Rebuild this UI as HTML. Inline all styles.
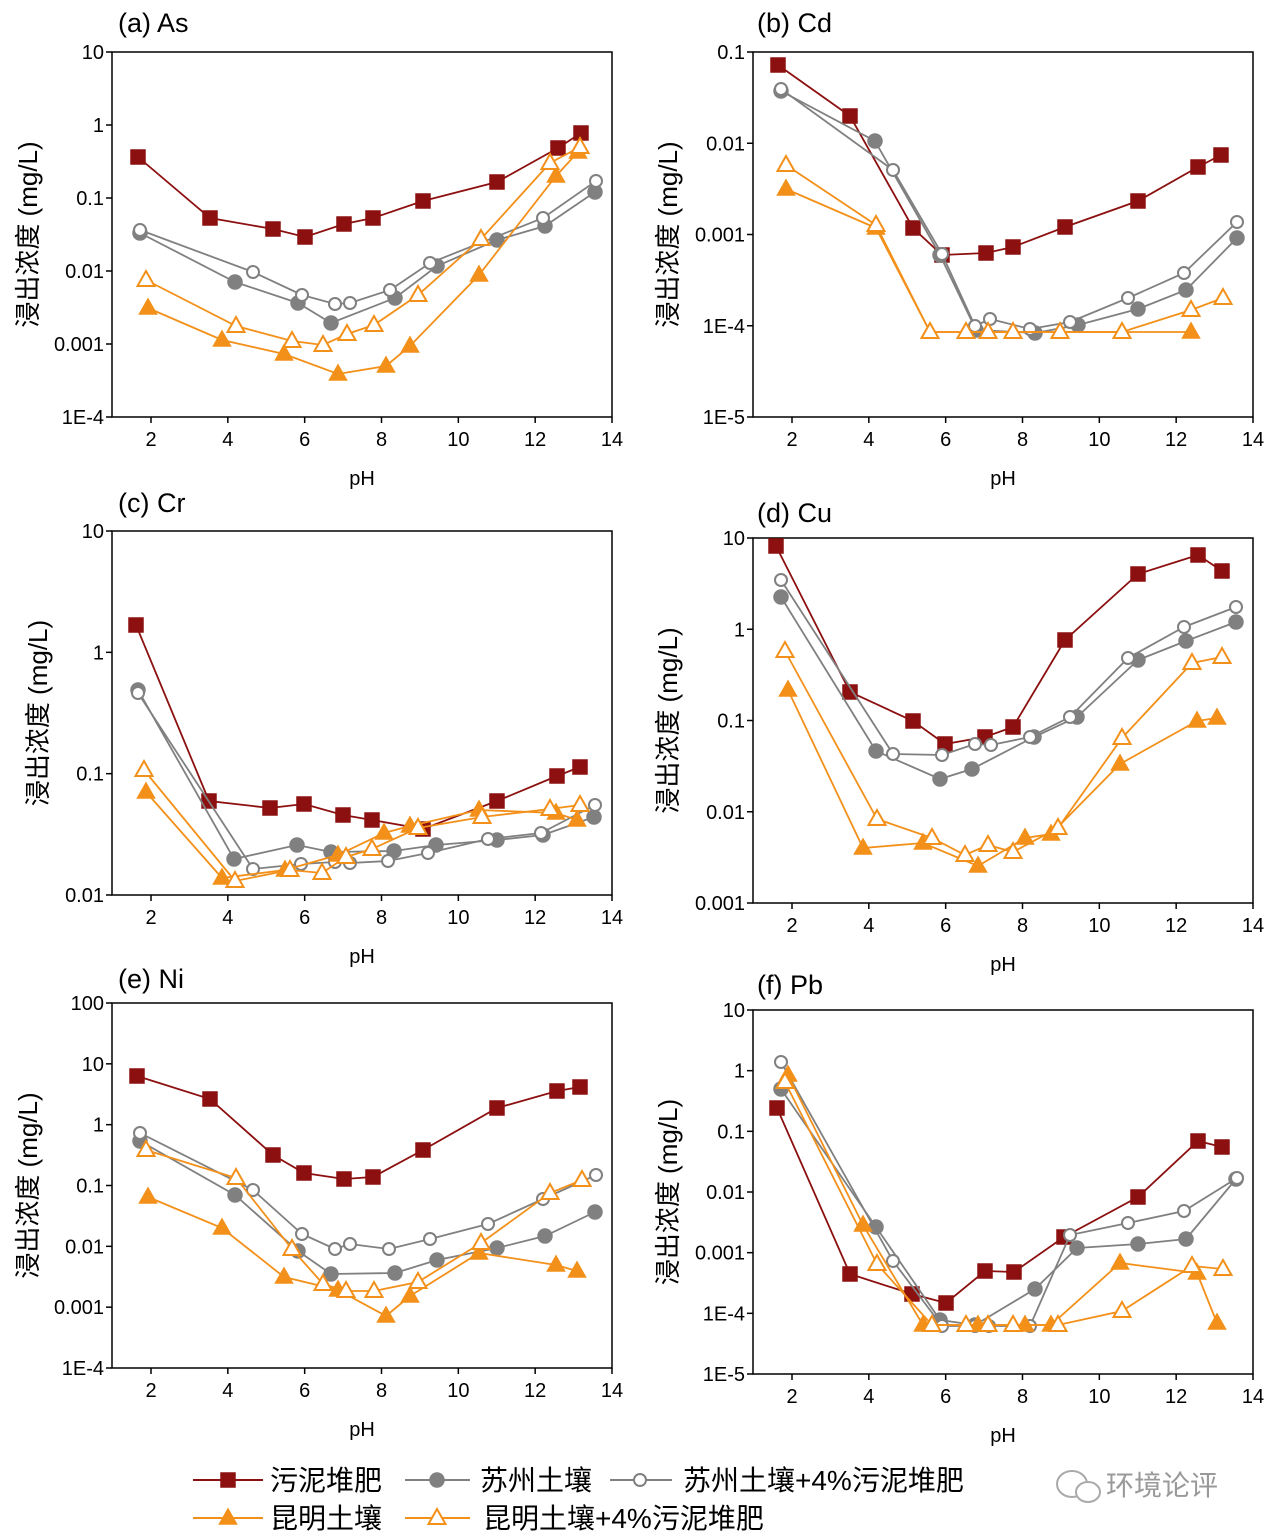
<!DOCTYPE html>
<html><head><meta charset="utf-8"><style>
body{margin:0;background:#fff;}
svg{display:block;font-family:"Liberation Sans","Noto Sans CJK SC",sans-serif;}
</style></head><body>
<svg id="s" width="1271" height="1540" xmlns="http://www.w3.org/2000/svg"></svg>
<script>
const S=document.getElementById('s');let h='';
const RED='#8c1010',GRAY='#808080',OR='#f39019';
const panels=[
{t:'(a) As',x0:112,x1:612,y0:52,y1:417,yl:['10','1','0.1','0.01','0.001','1E-4'],tx:118,ty:32,lx:28,
s:[[[138,157],[210,218],[273,229],[305,237],[344,224],[373,218],[423,201],[497,182],[558,148],[581,133]],
[[140,233],[235,282],[298,303],[331,323],[395,298],[437,266],[497,240],[545,226],[595,192]],
[[140,230],[253,272],[302,295],[335,304],[350,303],[390,290],[430,263],[543,218],[596,181]],
[[148,308],[222,340],[284,354],[338,374],[386,366],[410,346],[479,275],[556,176],[578,152]],
[[146,280],[236,326],[292,341],[323,345],[347,334],[374,325],[418,295],[481,239],[550,163],[580,147]]]},
{t:'(b) Cd',x0:753,x1:1253,y0:52,y1:417,yl:['0.1','0.01','0.001','1E-4','1E-5'],tx:757,ty:32,lx:668,
s:[[[778,65],[850,116],[913,228],[942,255],[986,253],[1013,247],[1065,227],[1138,201],[1198,167],[1221,155]],
[[781,91],[875,141],[940,255],[976,330],[1035,333],[1078,325],[1138,309],[1186,290],[1237,238]],
[[781,89],[893,170],[942,254],[975,326],[990,319],[1030,329],[1070,322],[1128,298],[1184,273],[1237,222]],
[[786,189],[876,228],[930,332],[966,332],[988,332],[1013,332],[1060,332],[1122,332],[1191,332]],
[[786,165],[876,225],[930,332],[966,332],[988,332],[1013,332],[1060,332],[1122,332],[1191,310],[1223,298]]]},
{t:'(c) Cr',x0:112,x1:612,y0:531,y1:895,yl:['10','1','0.1','0.01'],tx:118,ty:512,lx:38,
s:[[[136,625],[209,801],[270,808],[304,804],[343,815],[372,820],[423,829],[497,801],[557,776],[580,767]],
[[138,690],[234,859],[297,845],[331,852],[394,851],[436,845],[497,840],[543,835],[594,817]],
[[138,693],[253,869],[301,864],[335,862],[350,863],[388,861],[428,853],[488,839],[541,833],[595,805]],
[[146,792],[222,878],[285,870],[338,855],[384,833],[410,826],[479,810],[556,813],[577,820]],
[[144,770],[235,881],[290,870],[322,873],[346,857],[372,849],[418,828],[482,817],[550,809],[580,805]]]},
{t:'(d) Cu',x0:753,x1:1253,y0:538,y1:903,yl:['10','1','0.1','0.01','0.001'],tx:757,ty:522,lx:668,
s:[[[776,546],[850,692],[913,721],[945,744],[985,737],[1013,727],[1065,640],[1138,574],[1198,555],[1222,571]],
[[781,597],[876,751],[940,779],[972,769],[1034,737],[1077,717],[1138,660],[1186,641],[1236,622]],
[[781,580],[893,754],[942,755],[975,744],[991,745],[1030,737],[1070,717],[1128,658],[1184,627],[1236,607]],
[[788,690],[863,848],[923,843],[978,866],[1025,838],[1051,834],[1120,764],[1197,721],[1217,718]],
[[785,651],[877,819],[932,838],[965,855],[988,845],[1013,852],[1058,828],[1122,738],[1192,663],[1222,657]]]},
{t:'(e) Ni',x0:112,x1:612,y0:1003,y1:1368,yl:['100','10','1','0.1','0.01','0.001','1E-4'],tx:118,ty:988,lx:28,
s:[[[137,1076],[210,1099],[273,1155],[304,1173],[344,1179],[373,1177],[423,1150],[497,1108],[557,1091],[580,1087]],
[[140,1141],[235,1195],[298,1251],[331,1274],[395,1273],[437,1260],[497,1248],[545,1236],[595,1212]],
[[140,1133],[253,1190],[302,1234],[335,1249],[350,1244],[389,1249],[430,1239],[488,1224],[543,1199],[596,1175]],
[[148,1197],[222,1228],[284,1277],[338,1290],[386,1316],[410,1296],[479,1253],[556,1265],[577,1271]],
[[146,1150],[236,1178],[292,1249],[323,1284],[346,1291],[374,1291],[418,1282],[481,1243],[550,1193],[582,1180]]]},
{t:'(f) Pb',x0:753,x1:1253,y0:1010,y1:1374,yl:['10','1','0.1','0.01','0.001','1E-4','1E-5'],tx:757,ty:994,lx:668,
s:[[[777,1108],[850,1274],[912,1294],[946,1303],[985,1271],[1014,1272],[1064,1237],[1138,1197],[1198,1141],[1222,1147]],
[[781,1089],[876,1227],[940,1320],[975,1325],[1035,1289],[1077,1248],[1138,1244],[1186,1239],[1236,1179]],
[[781,1062],[893,1261],[942,1326],[975,1326],[989,1326],[1030,1326],[1070,1235],[1128,1223],[1184,1211],[1237,1178]],
[[788,1075],[863,1225],[923,1325],[978,1325],[1025,1325],[1051,1325],[1120,1263],[1197,1273],[1217,1323]],
[[785,1082],[877,1264],[932,1325],[966,1325],[988,1325],[1013,1325],[1058,1325],[1122,1311],[1192,1266],[1223,1269]]]}
];
const styles=[[RED,'sq',1],[GRAY,'ci',1],[GRAY,'ci',0],[OR,'tr',1],[OR,'tr',0]];
function mk(type,x,y,c,f){const fill=f?c:'#fff';
 if(type==='sq')return `<rect x="${x-7}" y="${y-7}" width="14" height="14" fill="${fill}" stroke="${c}" stroke-width="1.5"/>`;
 if(type==='ci')return `<circle cx="${x}" cy="${y}" r="${f?7:6}" fill="${fill}" stroke="${c}" stroke-width="${f?1.5:2}"/>`;
 return `<polygon points="${x},${y-9} ${x-8.5},${y+6} ${x+8.5},${y+6}" fill="${fill}" stroke="${c}" stroke-width="${f?1.5:2}"/>`;}
for(const p of panels){
 h+=`<rect x="${p.x0}" y="${p.y0}" width="${p.x1-p.x0}" height="${p.y1-p.y0}" fill="none" stroke="#000" stroke-width="1.5"/>`;
 for(let i=0;i<7;i++){const v=2+2*i;const x=p.x0+39+(p.x1-p.x0-39)*(i/6);
  h+=`<line x1="${x}" y1="${p.y1}" x2="${x}" y2="${p.y1+6}" stroke="#000" stroke-width="1.5"/>`;
  h+=`<text x="${x}" y="${p.y1+29}" font-size="20" text-anchor="middle">${v}</text>`;}
 const n=p.yl.length-1;
 for(let i=0;i<=n;i++){const y=p.y0+(p.y1-p.y0)*i/n;
  h+=`<line x1="${p.x0-6}" y1="${y}" x2="${p.x0}" y2="${y}" stroke="#000" stroke-width="1.5"/>`;
  h+=`<text x="${p.x0-8}" y="${y+7}" font-size="20" text-anchor="end">${p.yl[i]}</text>`;}
 h+=`<text x="${(p.x0+p.x1)/2}" y="${p.y1+68}" font-size="20" text-anchor="middle">pH</text>`;
 h+=`<text x="${p.tx}" y="${p.ty}" font-size="27">${p.t}</text>`;
 const cy=(p.y0+p.y1)/2;
 h+=`<text x="${p.lx}" y="${cy}" font-size="26" text-anchor="middle" transform="rotate(-90 ${p.lx} ${cy})" dy="9">浸出浓度 (mg/L)</text>`;
 p.s.forEach((pts,k)=>{const [c,t,f]=styles[k];
  h+=`<polyline points="${pts.map(a=>a.join(',')).join(' ')}" fill="none" stroke="${c}" stroke-width="1.8"/>`;
  pts.forEach(a=>h+=mk(t,a[0],a[1],c,f));});
}
const L=[[193,263,228,1480,0,270,'污泥堆肥'],[405,470,437,1480,1,480,'苏州土壤'],[610,672,640,1480,2,683,'苏州土壤+4%污泥堆肥'],
[193,263,228,1518,3,270,'昆明土壤'],[405,470,437,1518,4,483,'昆明土壤+4%污泥堆肥']];
for(const l of L){const [c,t,f]=styles[l[4]];
 h+=`<line x1="${l[0]}" y1="${l[3]}" x2="${l[1]}" y2="${l[3]}" stroke="${c}" stroke-width="2"/>`;
 h+=mk(t,l[2],l[3],c,f);
 h+=`<text x="${l[5]}" y="${l[3]+10}" font-size="28">${l[6]}</text>`;}
h+=`<ellipse cx="1072" cy="1484" rx="15" ry="13" fill="none" stroke="#aaa" stroke-width="2"/><ellipse cx="1088" cy="1492" rx="12" ry="10" fill="#fff" stroke="#aaa" stroke-width="2"/>`;
h+=`<text x="1106" y="1495" font-size="28" fill="#999">环境论评</text>`;
S.innerHTML=h;
</script>
</body></html>
